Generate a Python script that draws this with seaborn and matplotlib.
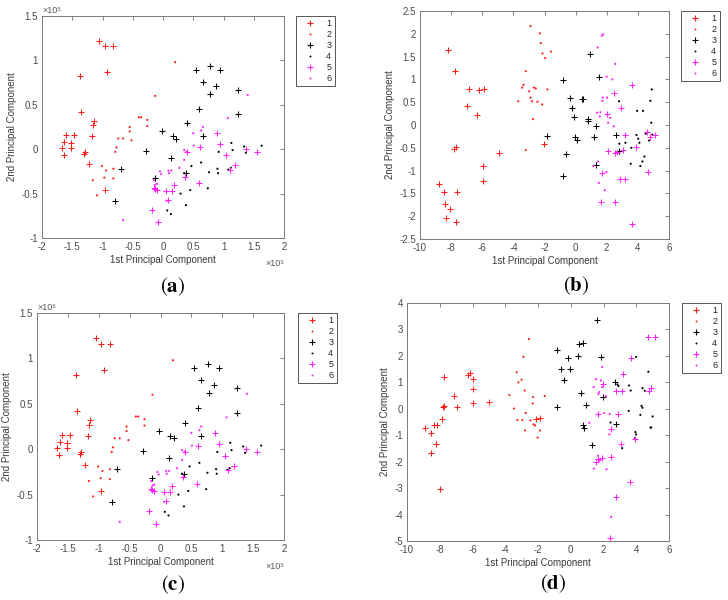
import numpy as np
import pandas as pd
import seaborn as sns
import matplotlib
matplotlib.use('Agg')
import matplotlib.pyplot as plt
from matplotlib.lines import Line2D
from matplotlib.ticker import FuncFormatter, MultipleLocator

# Score points per cluster, (1st PC, 2nd PC). Panels (a) and (c) are in units of 1e5.
a_g1 = [(-1.05, 1.22), (-0.96, 1.16), (-0.82, 1.16), (-0.92, 0.87), (-1.37, 0.82),
        (-1.36, 0.42), (-1.14, 0.32), (-1.16, 0.27), (-1.18, 0.15), (-1.60, 0.16),
        (-1.47, 0.16), (-1.63, 0.08), (-1.52, 0.07), (-1.67, 0.01), (-1.52, 0.01),
        (-1.64, -0.06), (-1.29, -0.03), (-1.31, -0.05), (-1.23, -0.17), (-0.96, -0.46)]
a_g2 = [(0.20, 0.98), (-0.13, 0.60), (-0.40, 0.36), (-0.36, 0.36), (-0.26, 0.33),
        (-0.26, 0.26), (-0.55, 0.25), (-0.55, 0.20), (-0.74, 0.12), (-0.66, 0.12),
        (-0.52, 0.10), (-0.77, 0.02), (-0.79, -0.03), (-1.01, -0.19), (-0.94, -0.24),
        (-0.82, -0.22), (-1.16, -0.35), (-0.97, -0.32), (-0.82, -0.33), (-1.09, -0.52)]
a_g3 = [(0.77, 0.94), (0.55, 0.89), (0.95, 0.89), (0.66, 0.76), (0.87, 0.71),
        (0.78, 0.62), (1.24, 0.67), (0.60, 0.45), (1.24, 0.40), (0.40, 0.29),
        (-0.02, 0.20), (0.16, 0.15), (0.22, 0.12), (0.66, 0.15), (-0.28, -0.02),
        (0.14, -0.10), (0.38, -0.27), (-0.14, -0.32), (-0.70, -0.22), (-0.79, -0.58)]
a_g4 = [(1.13, 0.07), (1.34, 0.03), (1.37, -0.04), (1.63, 0.04), (1.15, -0.01),
        (0.92, -0.03), (0.63, -0.15), (0.47, -0.19), (0.76, -0.26), (0.91, -0.27),
        (0.90, -0.22), (1.08, -0.23), (1.12, -0.21), (0.45, -0.46), (0.29, -0.50),
        (0.74, -0.44), (0.38, -0.63), (0.07, -0.69), (0.13, -0.73), (0.35, -0.27)]
a_g5 = [(0.89, 0.18), (0.95, 0.06), (1.04, -0.07), (1.19, -0.18), (1.10, -0.23),
        (1.38, 0.00), (1.56, -0.03), (0.61, 0.03), (0.40, -0.03), (0.37, -0.31),
        (0.59, -0.38), (0.18, -0.40), (0.15, -0.47), (0.05, -0.47), (-0.13, -0.45),
        (-0.10, -0.46), (0.09, -0.57), (-0.19, -0.68), (-0.08, -0.82), (-0.15, -0.44)]
a_g6 = [(1.40, 0.61), (1.07, 0.35), (0.66, 0.25), (0.63, 0.21), (0.50, 0.18),
        (0.51, 0.04), (0.35, -0.01), (0.39, -0.03), (0.35, -0.12), (0.27, -0.21),
        (0.09, -0.24), (0.14, -0.24), (0.10, -0.27), (-0.05, -0.25), (-0.03, -0.28),
        (0.06, -0.58), (-0.66, -0.80), (-0.13, -0.40), (-0.10, -0.39), (-0.15, -0.35)]

b_g1 = [(-8.18, 1.64), (-7.75, 1.18), (-6.86, 0.80), (-6.19, 0.76), (-5.89, 0.78),
        (-7.01, 0.42), (-6.32, 0.22), (-7.82, -0.52), (-7.69, -0.49), (-5.96, -0.91),
        (-5.98, -1.23), (-4.93, -0.62), (-8.78, -1.29), (-8.44, -1.46), (-8.40, -1.74),
        (-8.10, -1.85), (-7.63, -1.48), (-8.33, -2.04), (-7.71, -2.13), (-2.02, -0.42)]
b_g2 = [(-2.90, 2.17), (-2.30, 2.01), (-2.24, 1.80), (-2.13, 1.57), (-1.96, 1.47),
        (-1.59, 1.61), (-3.20, 1.18), (-3.35, 0.88), (-3.43, 0.82), (-2.68, 0.82),
        (-2.56, 0.80), (-2.98, 0.74), (-1.81, 0.78), (-3.69, 0.52), (-2.90, 0.60),
        (-2.81, 0.52), (-2.45, 0.51), (-2.15, 0.45), (-2.73, 0.13), (-3.20, -0.55)]
b_g3 = [(0.91, 1.55), (1.47, 1.06), (-0.82, 0.98), (-0.33, 0.60), (0.42, 0.58),
        (0.48, 0.58), (-0.22, 0.38), (-0.10, 0.18), (0.80, 0.14), (0.78, 0.09),
        (1.34, -0.03), (-0.01, -0.27), (0.08, -0.32), (-1.81, -0.24), (1.19, -0.26),
        (2.62, -0.22), (-0.59, -0.63), (2.77, -0.56), (1.29, -0.87), (-0.82, -1.11)]
b_g4 = [(4.89, 0.78), (4.80, 0.53), (2.79, 0.52), (3.95, 0.31), (4.33, 0.31),
        (4.86, 0.05), (4.50, -0.19), (4.93, -0.21), (3.91, -0.22), (4.02, -0.30),
        (3.20, -0.39), (2.81, -0.41), (3.58, -0.50), (4.10, -0.39), (4.72, -0.34),
        (4.42, -0.69), (4.29, -0.80), (4.16, -0.90), (3.54, -0.85)]
b_g5 = [(3.65, 0.87), (2.45, 0.71), (2.90, 0.38), (2.00, 0.24), (3.20, -0.22),
        (2.09, -0.56), (2.54, -0.62), (2.67, -0.60), (3.06, -0.55), (3.91, -0.49),
        (4.61, -0.16), (5.13, -0.22), (4.78, -0.27), (4.68, -1.04), (1.68, -1.06),
        (2.88, -1.19), (3.20, -1.18), (1.60, -1.69), (2.52, -1.69), (3.63, -2.18)]
b_g6 = [(1.76, 1.99), (1.68, 1.96), (1.42, 1.70), (2.54, 1.34), (2.00, 1.06),
        (2.36, 1.00), (1.74, 0.60), (1.72, 0.53), (2.02, 0.60), (1.38, 0.27),
        (1.59, 0.28), (1.55, 0.19), (2.22, 0.16), (2.09, 0.05), (2.45, -0.03),
        (1.14, -0.90), (1.44, -0.80), (1.98, -1.03), (1.49, -1.27), (1.87, -1.43)]

d_g1 = [(-8.90, -0.73), (-8.54, -0.90), (-8.33, -0.61), (-8.17, -0.61), (-7.89, -0.38),
        (-7.77, 0.11), (-7.79, 0.05), (-7.72, 1.19), (-7.12, 0.49), (-6.95, 0.05),
        (-8.25, -1.33), (-8.56, -1.69), (-8.01, -3.04), (-6.28, 1.29), (-6.16, 1.34),
        (-6.00, 1.14), (-6.00, 0.73), (-5.94, 0.23), (-5.01, 0.25), (-2.12, -0.37),
        (-1.88, -0.33)]
d_g2 = [(-2.55, 2.64), (-2.89, 1.96), (-3.30, 1.38), (-3.00, 1.10), (-3.20, 1.00),
        (-3.75, 0.52), (-2.81, 0.69), (-2.30, 0.44), (-1.59, 0.48), (-2.32, 0.20),
        (-3.47, 0.01), (-3.26, -0.43), (-2.96, -0.43), (-2.75, -0.16), (-2.46, -0.44),
        (-2.28, -0.59), (-2.18, -0.63), (-2.79, -0.82), (-1.88, -0.82), (-2.02, -1.09)]
d_g3 = [(1.59, 3.37), (0.48, 2.44), (0.77, 2.50), (-0.82, 2.22), (0.46, 2.01),
        (-0.19, 1.91), (-0.58, 1.50), (-0.03, 1.50), (-0.44, 1.09), (1.82, 1.97),
        (0.60, 0.61), (-0.84, 0.08), (0.94, 0.15), (0.72, -0.63), (0.78, -0.74),
        (1.31, -1.38), (2.71, 1.02), (1.99, 0.45), (2.75, -0.57)]
d_g4 = [(3.99, 1.96), (4.74, 1.40), (3.56, 0.88), (3.66, 0.69), (4.38, 0.78),
        (4.52, 0.68), (2.85, 0.92), (2.91, 0.86), (4.32, 0.11), (4.38, 0.04),
        (3.54, -0.08), (4.25, -0.23), (5.00, -0.29), (4.87, -0.71), (4.91, -0.71),
        (3.95, -0.88), (3.99, -0.97), (3.93, -1.11), (3.14, -1.49), (2.43, -0.52)]
d_g5 = [(4.74, 2.70), (5.15, 2.70), (3.67, 1.93), (3.20, 1.31), (4.76, 0.69),
        (4.88, 0.78), (2.75, 0.69), (3.16, 0.69), (1.99, 0.93), (1.69, -0.18),
        (2.87, -0.20), (2.43, -0.76), (3.04, -1.33), (3.93, -1.14), (1.69, -1.91),
        (1.57, -2.00), (1.93, -1.87), (2.43, -1.83), (3.60, -2.78), (2.79, -3.33),
        (2.41, -4.89)]
d_g6 = [(1.92, 1.58), (1.54, 1.12), (1.84, 1.07), (1.40, 0.82), (1.69, 0.56),
        (2.16, 0.47), (1.92, 0.82), (1.13, -0.53), (2.04, -0.16), (2.38, -0.20),
        (2.36, -0.97), (1.66, -1.78), (1.78, -1.96), (1.41, -2.26), (2.18, -2.29),
        (2.47, -4.09), (1.74, 0.63)]

group_labels = ['1', '2', '3', '4', '5', '6']
group_colors = ['#ff1a1a', '#ff1a1a', '#000000', '#000000', '#ff22ff', '#ff22ff']
group_markers = ['+', 'o', '+', 'o', '+', 'o']

sns.set_style('white')
plt.rcParams['font.family'] = ['Liberation Sans', 'DejaVu Sans']
plt.rcParams['axes.unicode_minus'] = False
plt.rcParams['mathtext.fontset'] = 'stix'

W, H = 728, 600
fig = plt.figure(figsize=(W / 100, H / 100), dpi=100)


def fig_axes(left, top, right, bottom):
    # pixel box -> figure fraction
    return fig.add_axes([left / W, 1 - bottom / H, (right - left) / W, (bottom - top) / H])


def draw_panel(ax, groups, xlim, ylim, xstep, ystep, scale, legend_xy):
    frames = []
    for label, pts in zip(group_labels, groups):
        arr = np.array(pts) * scale
        frames.append(pd.DataFrame({'pc1': arr[:, 0], 'pc2': arr[:, 1], 'group': label}))
    df = pd.concat(frames, ignore_index=True)

    for label, color, marker in zip(group_labels, group_colors, group_markers):
        sub = df[df['group'] == label]
        if marker == '+':
            sns.scatterplot(data=sub, x='pc1', y='pc2', marker='+', color=color,
                            s=22, linewidth=0.75, ax=ax, legend=False, zorder=3)
        else:
            sns.scatterplot(data=sub, x='pc1', y='pc2', marker='o', color=color,
                            s=2.4, linewidth=0, edgecolor='none', ax=ax,
                            legend=False, zorder=3)

    ax.set_xlim(*[v * scale for v in xlim])
    ax.set_ylim(*[v * scale for v in ylim])
    ax.xaxis.set_major_locator(MultipleLocator(xstep * scale))
    ax.yaxis.set_major_locator(MultipleLocator(ystep * scale))
    fmt = FuncFormatter(lambda v, p: f'{round(v / scale, 6):g}')
    ax.xaxis.set_major_formatter(fmt)
    ax.yaxis.set_major_formatter(fmt)
    ax.tick_params(direction='in', length=3, width=0.5, top=True, right=True,
                   color='#555555', labelcolor='#4a4a4a', labelsize=7, pad=3)
    for spine in ax.spines.values():
        spine.set_visible(True)
        spine.set_color('#7a7a7a')
        spine.set_linewidth(0.7)
    ax.set_xlabel('1st Principal Component', fontsize=7, color='#3a3a3a', labelpad=2)
    ax.set_ylabel('2nd Principal Component', fontsize=7, color='#3a3a3a', labelpad=3)

    if scale != 1:
        ax.text(0, 1.004, '×10⁵', transform=ax.transAxes, ha='left', va='bottom',
                fontsize=6.5, color='#555555')
        ax.text(1, -0.115, '×10⁵', transform=ax.transAxes, ha='right', va='center',
                fontsize=6.5, color='#555555')

    handles = []
    for color, marker in zip(group_colors, group_markers):
        if marker == '+':
            handles.append(Line2D([], [], linestyle='none', marker='+', color=color,
                                  markersize=5, markeredgewidth=0.8))
        else:
            handles.append(Line2D([], [], linestyle='none', marker='o', color=color,
                                  markersize=1.4, markeredgewidth=0))
    leg = ax.legend(handles, group_labels, loc='upper left',
                    bbox_to_anchor=(legend_xy[0] / W, 1 - legend_xy[1] / H),
                    bbox_transform=fig.transFigure, borderaxespad=0, frameon=True,
                    fancybox=False, edgecolor='#555555', framealpha=1, fontsize=6.5,
                    handlelength=2.5, handletextpad=0.5, labelspacing=0.22,
                    borderpad=0.35)
    leg.get_frame().set_linewidth(0.7)


ax_a = fig_axes(42, 16, 284, 238)
draw_panel(ax_a, [a_g1, a_g2, a_g3, a_g4, a_g5, a_g6], (-2, 2), (-1, 1.5), 0.5, 0.5,
           1e5, (296, 16))
ax_b = fig_axes(420, 11, 669, 239)
draw_panel(ax_b, [b_g1, b_g2, b_g3, b_g4, b_g5, b_g6], (-10, 6), (-2.5, 2.5), 2, 0.5,
           1, (681, 11))
# panel (c) shows the same scores as panel (a)
ax_c = fig_axes(37, 313, 284, 540)
draw_panel(ax_c, [a_g1, a_g2, a_g3, a_g4, a_g5, a_g6], (-2, 2), (-1, 1.5), 0.5, 0.5,
           1e5, (298, 313))
ax_d = fig_axes(407, 303, 669, 541)
draw_panel(ax_d, [d_g1, d_g2, d_g3, d_g4, d_g5, d_g6], (-10, 6), (-5, 4), 2, 1,
           1, (682, 303))

for letter, cx, cy in [('a', 173, 287), ('b', 576, 286), ('c', 173, 585), ('d', 553, 584)]:
    fig.text(cx / W, 1 - cy / H, r'$(\mathbf{' + letter + r'})$', ha='center',
             va='center', fontsize=15, color='black')

fig.savefig('out.png', dpi=100, facecolor='white')
